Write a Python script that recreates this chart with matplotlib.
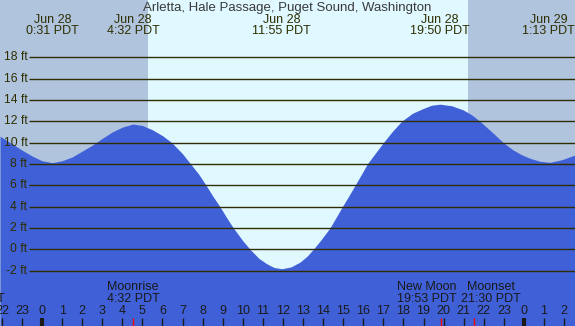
import matplotlib
matplotlib.use("Agg")
import matplotlib.pyplot as plt

# Tide height (ft), hours from midnight Jun 28 (PDT)
stunden = [-2.09, -1.5, -1.0, -0.5, 0.0, 0.52, 1.0, 1.5, 2.0, 2.5,
           3.0, 3.5, 4.0, 4.53, 5.0, 5.5, 6.0, 6.46, 7.0, 7.4,
           7.8, 8.17, 8.5, 8.86, 9.2, 9.53, 10.0, 10.36, 10.8, 11.19,
           11.55, 11.94, 12.4, 12.85, 13.2, 13.51, 13.9, 14.34, 14.65, 14.96,
           15.28, 15.59, 15.9, 16.2, 16.6, 17.0, 17.45, 17.91, 18.45, 18.99,
           19.4, 19.82, 20.4, 20.98, 21.4, 21.81, 22.4, 22.97, 23.47, 23.9,
           24.3, 24.8, 25.3, 25.9, 26.54]
hoehe = [10.6, 9.9, 9.3, 8.75, 8.3, 8.12, 8.3, 8.65, 9.2, 9.75,
         10.4, 11.0, 11.45, 11.74, 11.6, 11.2, 10.65, 10.0, 8.95, 8.0,
         7.05, 6.0, 5.0, 4.0, 2.95, 2.0, 0.8, 0.0, -0.85, -1.35,
         -1.7, -1.82, -1.65, -1.2, -0.65, 0.0, 0.9, 2.0, 3.0, 4.0,
         5.0, 6.0, 7.0, 8.0, 9.0, 10.0, 11.05, 12.0, 12.75, 13.2,
         13.5, 13.6, 13.45, 13.06, 12.6, 12.0, 11.0, 10.0, 9.3, 8.85,
         8.53, 8.25, 8.15, 8.4, 8.84]

# high / low water labels
ext_zeit = [0.517, 4.533, 11.917, 19.833, 25.217]
ext_datum = ["Jun 28", "Jun 28", "Jun 28", "Jun 28", "Jun 29"]
ext_text = ["0:31 PDT", "4:32 PDT", "11:55 PDT", "19:50 PDT", "1:13 PDT"]

# sun
sonnenaufgang = 5.28
sonnenuntergang = 21.22

# moon events (tick time, label position, text)
mond_zeit = [4.533, 19.883, 21.5]
mond_pos = [4.533, 19.17, 22.37, -3.36]
mond_name = ["Moonrise", "New Moon", "Moonset", "Moonset"]
mond_text = ["4:32 PDT", "19:53 PDT", "21:30 PDT", "20:31 PDT"]

ft_stufen = list(range(-2, 20, 2))

# colours
blau = "#4060d8"
tag = "#e0f8ff"
nacht = "#b0c4de"
dunkel = "#2e2e00"

W, H = 575, 326
X0, PXH = 42.0, 20.08       # pixel of 0:00 and pixels per hour
Y0, PXF = 249.3, 10.67      # pixel of 0 ft and pixels per foot

fig = plt.figure(figsize=(W / 100, H / 100), dpi=100, facecolor=tag)
ax = fig.add_axes([0, 0, 1, 1])
xmin, xmax = -X0 / PXH, (W - X0) / PXH
ymin, ymax = (Y0 - H) / PXF, Y0 / PXF
ax.set_xlim(xmin, xmax)
ax.set_ylim(ymin, ymax)
ax.axis("off")

schrift = "Liberation Sans"
gr = 9


def yfrac(py):
    return 1 - py / H


# night
ax.axvspan(xmin, sonnenaufgang, color=nacht, lw=0, zorder=1)
ax.axvspan(sonnenuntergang, xmax, color=nacht, lw=0, zorder=1)

# water
ax.fill_between(stunden, hoehe, ymin, color=blau, lw=0, zorder=2)

# grid lines + labels
ax.hlines(ft_stufen, (29.3 - X0) / PXH, xmax, color=dunkel, lw=1.0, zorder=3)
for f in ft_stufen:
    ax.text((27.5 - X0) / PXH, f, "%d ft" % f, ha="right", va="center",
            fontsize=8.7, color=dunkel, family=schrift, zorder=4)

# title
fig.text(0.5, yfrac(7.5), "Arletta, Hale Passage, Puget Sound, Washington",
         ha="center", va="center", fontsize=9.5, color="#3a3a3a", family=schrift)

# high/low labels
trans = ax.get_xaxis_transform()
for t, d, s in zip(ext_zeit, ext_datum, ext_text):
    ax.text(t, yfrac(20), d, transform=trans, ha="center", va="center",
            fontsize=gr, color=dunkel, family=schrift, zorder=5)
    ax.text(t, yfrac(31.5), s, transform=trans, ha="center", va="center",
            fontsize=gr, color=dunkel, family=schrift, zorder=5)

# moon labels
for p, n, s in zip(mond_pos, mond_name, mond_text):
    ax.text(p, yfrac(287), n, transform=trans, ha="center", va="center",
            fontsize=gr, color="#1a1a1a", family=schrift, zorder=5)
    ax.text(p, yfrac(299), s, transform=trans, ha="center", va="center",
            fontsize=gr, color="#1a1a1a", family=schrift, zorder=5)

# hour ticks and labels
for h in range(-2, 27):
    lw = 3 if h % 24 == 0 else 1
    ax.vlines(h, 0, 8 / H, transform=trans, color="#1a1a1a", lw=lw, zorder=5)
    ax.text(h, yfrac(311.5), str(h % 24), transform=trans, ha="center",
            va="center", fontsize=gr, color="#1a1a1a", family=schrift, zorder=5)
for m in mond_zeit:
    ax.vlines(m, 0, 8 / H, transform=trans, color="#ff0000", lw=1, zorder=6)

fig.savefig("out.png", dpi=100, facecolor=tag)
